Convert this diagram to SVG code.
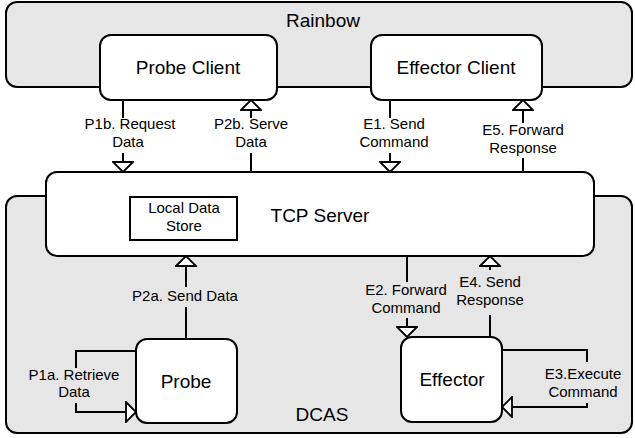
<svg xmlns="http://www.w3.org/2000/svg" width="635" height="438" viewBox="0 0 635 438">
<style>
.grp{fill:#e6e6e6;stroke:#000;stroke-width:2}
.node{fill:#fff;stroke:#000;stroke-width:2}
.big{font-family:"Liberation Sans",Arial,sans-serif;font-size:19px;text-anchor:middle;fill:#000}
.lbl{font-family:"Liberation Sans",Arial,sans-serif;font-size:15px;text-anchor:middle;fill:#000}
.con{fill:none;stroke:#000;stroke-width:2}
</style>
<defs>
<marker id="open" viewBox="-1 -11 12 22" markerWidth="13" markerHeight="22" refX="10" refY="0" orient="auto" markerUnits="userSpaceOnUse">
<path d="M0,-10 L10,0 L0,10 z" fill="#fff" stroke="#000" stroke-width="1.8"/>
</marker>
</defs>
<g id="rainbow">
<rect class="grp" x="6" y="2" width="626" height="85" rx="11"/>
<text class="big" x="323" y="27">Rainbow</text>
</g>
<g id="dcas">
<rect class="grp" x="6" y="196" width="626" height="237" rx="11"/>
<text class="big" x="322" y="421">DCAS</text>
</g>
<g id="probe-client">
<rect class="node" x="100" y="35" width="177" height="65" rx="11"/>
<text class="big" x="188" y="74">Probe Client</text>
</g>
<g id="effector-client">
<rect class="node" x="371" y="35" width="171" height="65" rx="11"/>
<text class="big" x="456" y="74">Effector Client</text>
</g>
<g id="tcp-server">
<rect class="node" x="46" y="172" width="548" height="84" rx="11"/>
<text class="big" x="320" y="222">TCP Server</text>
</g>
<g id="local-data-store">
<rect x="130" y="197" width="107" height="43" fill="#fff" stroke="#000" stroke-width="2"/>
<text class="lbl" x="184" y="213">Local Data</text>
<text class="lbl" x="184" y="231">Store</text>
</g>
<g id="probe">
<rect class="node" x="136" y="339" width="101" height="84" rx="11"/>
<text class="big" x="186" y="388">Probe</text>
</g>
<g id="effector">
<rect class="node" x="401" y="337" width="101" height="85" rx="11"/>
<text class="big" x="452" y="386">Effector</text>
</g>
<g id="connectors">
<path class="con" d="M123,100 V118"/>
<path class="con" d="M123,153 V172" marker-end="url(#open)"/>
<text class="lbl" x="130" y="129">P1b. Request</text>
<text class="lbl" x="128" y="147">Data</text>

<path class="con" d="M251,172 V153"/>
<path class="con" d="M251,118 V100" marker-end="url(#open)"/>
<text class="lbl" x="251" y="129">P2b. Serve</text>
<text class="lbl" x="251" y="147">Data</text>

<path class="con" d="M390,100 V118"/>
<path class="con" d="M390,153 V172" marker-end="url(#open)"/>
<text class="lbl" x="394" y="129">E1. Send</text>
<text class="lbl" x="394" y="147">Command</text>

<path class="con" d="M523,172 V158"/>
<path class="con" d="M523,123 V100" marker-end="url(#open)"/>
<text class="lbl" x="523" y="135">E5. Forward</text>
<text class="lbl" x="523" y="153">Response</text>

<path class="con" d="M186,339 V307"/>
<path class="con" d="M186,287 V256" marker-end="url(#open)"/>
<text class="lbl" x="185" y="301">P2a. Send Data</text>

<path class="con" d="M136,351 H76 V368"/>
<path class="con" d="M76,403 V412 H136" marker-end="url(#open)"/>
<text class="lbl" x="74" y="380">P1a. Retrieve</text>
<text class="lbl" x="74" y="397">Data</text>

<path class="con" d="M407,256 V282"/>
<path class="con" d="M407,318 V337" marker-end="url(#open)"/>
<text class="lbl" x="406" y="295">E2. Forward</text>
<text class="lbl" x="406" y="313">Command</text>

<path class="con" d="M490,337 V315"/>
<path class="con" d="M490,270 V256" marker-end="url(#open)"/>
<text class="lbl" x="490" y="287">E4. Send</text>
<text class="lbl" x="490" y="305">Response</text>

<path class="con" d="M502,350 H587 V362"/>
<path class="con" d="M587,403 V407 H502" marker-end="url(#open)"/>
<text class="lbl" x="583" y="379">E3.Execute</text>
<text class="lbl" x="583" y="397">Command</text>
</g>
</svg>
